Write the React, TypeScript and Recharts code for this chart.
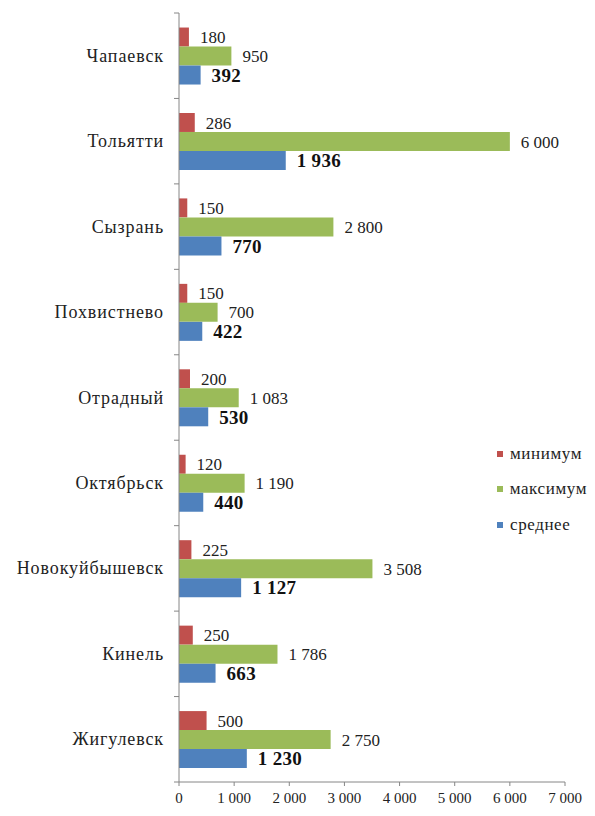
import React from "react";
import { BarChart, Bar, XAxis, YAxis, LabelList, Legend } from "recharts";

const cities = ["Чапаевск", "Тольятти", "Сызрань", "Похвистнево", "Отрадный", "Октябрьск", "Новокуйбышевск", "Кинель", "Жигулевск"];
const minimum = [180, 286, 150, 150, 200, 120, 225, 250, 500];
const maximum = [950, 6000, 2800, 700, 1083, 1190, 3508, 1786, 2750];
const average = [392, 1936, 770, 422, 530, 440, 1127, 663, 1230];
const xTicks = [0, 1000, 2000, 3000, 4000, 5000, 6000, 7000];
const seriesNames = ["минимум", "максимум", "среднее"];
const seriesColors = ["#C0504D", "#9BBB59", "#4F81BD"];

const data = cities.map((c, i) => ({ city: c, min: minimum[i], max: maximum[i], avg: average[i] }));

const FONT = "Liberation Serif";
const TEXT = "#222";
const W = 579;
const H = 808;
const M = { top: 5, right: 22, bottom: 0, left: 0 };
const YW = 171;
const XH = 34;
const plotH = H - M.top - M.bottom - XH;
const band = plotH / cities.length;

const fmt = (v: any) => {
  const n = Number(v);
  return n.toString().replace(/\B(?=(\d{3})+(?!\d))/g, "\u00a0");
};

const CatTick = (props: any) => {
  const { x, y, payload, index } = props;
  return (
    <g>
      <text
        x={x - 15}
        y={y}
        textAnchor="end"
        dominantBaseline="central"
        fontSize={18}
        letterSpacing={0.9}
        fontFamily={FONT}
        style={{ fontFamily: FONT }}
        fill={TEXT}
      >
        {payload.value}
      </text>
      <line x1={x - 5} x2={x} y1={y + band / 2} y2={y + band / 2} stroke="#868686" />
      {index === 0 ? <line x1={x - 5} x2={x} y1={y - band / 2} y2={y - band / 2} stroke="#868686" /> : null}
    </g>
  );
};

const LegendContent = () => {
  return (
    <div style={{ fontFamily: FONT, fontSize: 17, letterSpacing: 0.6, color: TEXT, whiteSpace: "nowrap" }}>
      {seriesNames.map((label, i) => (
        <div key={label} style={{ display: "flex", alignItems: "center", height: 35.5 }}>
          <span style={{ display: "inline-block", width: 6, height: 6, background: seriesColors[i], marginRight: 7 }} />
          <span>{label}</span>
        </div>
      ))}
    </div>
  );
};

const normalLabel = { fontSize: 17, fontFamily: FONT, fill: TEXT };
const boldLabel = { fontSize: 19, fontWeight: "bold", letterSpacing: 0.3, fontFamily: FONT, fill: "#111" };

export default function App() {
  return (
    <div style={{ width: W, height: H, background: "#fff", fontFamily: FONT }}>
      <BarChart
        width={W}
        height={H}
        data={data}
        layout="vertical"
        margin={M}
        barGap={0}
        barCategoryGap="17%"
        style={{ fontFamily: FONT }}
      >
        <XAxis
          type="number"
          domain={[0, 7000]}
          ticks={xTicks}
          tickFormatter={fmt}
          height={XH}
          axisLine={{ stroke: "#868686" }}
          tickLine={{ stroke: "#868686" }}
          tickSize={4}
          tickMargin={6}
          tick={{ fontSize: 15, fontFamily: FONT, fill: TEXT }}
          interval={0}
        />
        <YAxis
          type="category"
          dataKey="city"
          width={YW}
          axisLine={{ stroke: "#868686" }}
          tickLine={false}
          tickSize={0}
          tickMargin={0}
          tick={<CatTick />}
          interval={0}
        />
        <Legend
          verticalAlign="middle"
          align="center"
          layout="horizontal"
          content={<LegendContent />}
          wrapperStyle={{ position: "absolute", left: 489, top: 428, width: 90 }}
        />
        <Bar dataKey="min" name={seriesNames[0]} fill={seriesColors[0]} isAnimationActive={false}>
          <LabelList dataKey="min" position="right" offset={11} formatter={fmt} style={normalLabel} />
        </Bar>
        <Bar dataKey="max" name={seriesNames[1]} fill={seriesColors[1]} isAnimationActive={false}>
          <LabelList dataKey="max" position="right" offset={11} formatter={fmt} style={normalLabel} />
        </Bar>
        <Bar dataKey="avg" name={seriesNames[2]} fill={seriesColors[2]} isAnimationActive={false}>
          <LabelList dataKey="avg" position="right" offset={11} formatter={fmt} style={boldLabel} />
        </Bar>
      </BarChart>
    </div>
  );
}
